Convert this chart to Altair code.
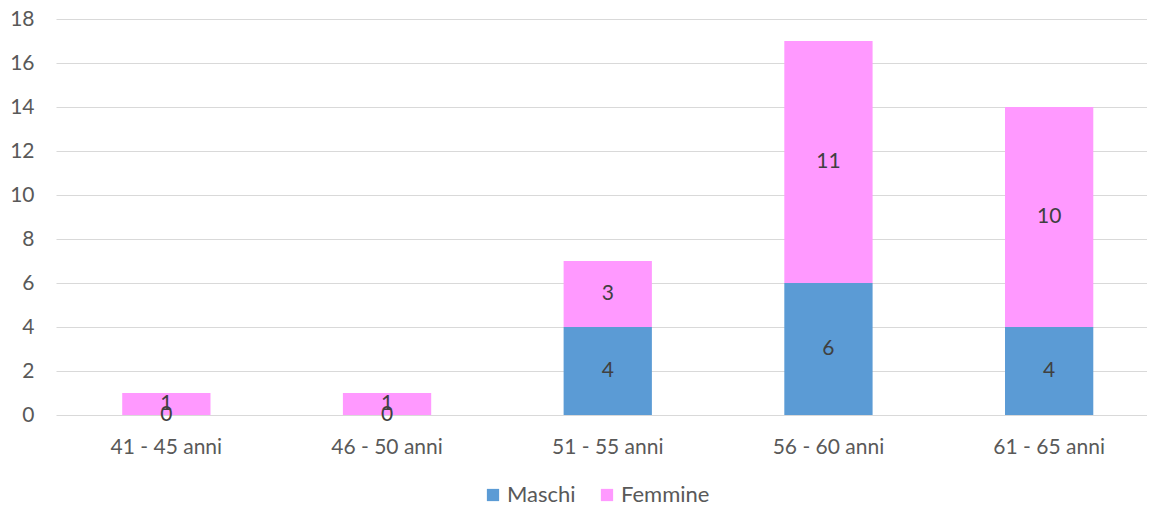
import altair as alt
import pandas as pd

categories = ["41 - 45 anni", "46 - 50 anni", "51 - 55 anni", "56 - 60 anni", "61 - 65 anni"]
maschi = [0, 0, 4, 6, 4]
femmine = [1, 1, 3, 11, 10]
series = ["Maschi", "Femmine"]
colors = ["#5B9BD5", "#FF99FF"]
y_ticks = [0, 2, 4, 6, 8, 10, 12, 14, 16, 18]

rows = []
for i, c in enumerate(categories):
    rows.append({"cat": c, "serie": "Maschi", "ord": 0, "val": maschi[i]})
    rows.append({"cat": c, "serie": "Femmine", "ord": 1, "val": femmine[i]})
df = pd.DataFrame(rows)

FONT = "Lato"

x_scale = alt.Scale(type="band", range=[0, 1103.5], paddingInner=0.6, paddingOuter=0.3)

x_enc = alt.X("cat:N", sort=categories, title=None, scale=x_scale,
              axis=alt.Axis(labelAngle=0, domain=False, ticks=False, labelPadding=21,
                            labelFontSize=21, labelColor="#595959", labelFont=FONT))

base = alt.Chart(df).transform_stack(
    stack="val", groupby=["cat"], as_=["y0", "y1"], sort=[alt.SortField("ord", order="ascending")]
).transform_calculate(mid="(datum.y0 + datum.y1) / 2")

bars = base.mark_bar().encode(
    x=x_enc,
    y=alt.Y("y0:Q", title=None,
            scale=alt.Scale(domain=[0, 18], nice=False),
            axis=alt.Axis(values=y_ticks, domain=False, ticks=False, labelPadding=22,
                          labelFontSize=21, labelColor="#595959", labelFont=FONT,
                          gridColor="#D9D9D9", gridWidth=1)),
    y2="y1:Q",
    color=alt.Color("serie:N", sort=series,
                    scale=alt.Scale(domain=series, range=colors),
                    legend=alt.Legend(title=None, orient="none", direction="horizontal",
                                      legendX=426, legendY=465, symbolType="square",
                                      symbolSize=150, symbolStrokeWidth=0, labelFontSize=22,
                                      labelColor="#595959", labelFont=FONT, columnPadding=20,
                                      labelOffset=3)),
)

labels = base.mark_text(fontSize=21, color="#404040", font=FONT, baseline="middle").encode(
    x=alt.X("cat:N", sort=categories, scale=x_scale, title=None),
    y=alt.Y("mid:Q"),
    text=alt.Text("val:Q"),
)

chart = alt.layer(bars, labels).properties(
    width=1091, height=396,
    autosize=alt.AutoSizeParams(type="none"),
    padding={"left": 48, "top": 11, "right": 0, "bottom": 87},
).configure_view(stroke=None)

chart.save("out.html", embed_options={"renderer": "svg", "actions": False})
